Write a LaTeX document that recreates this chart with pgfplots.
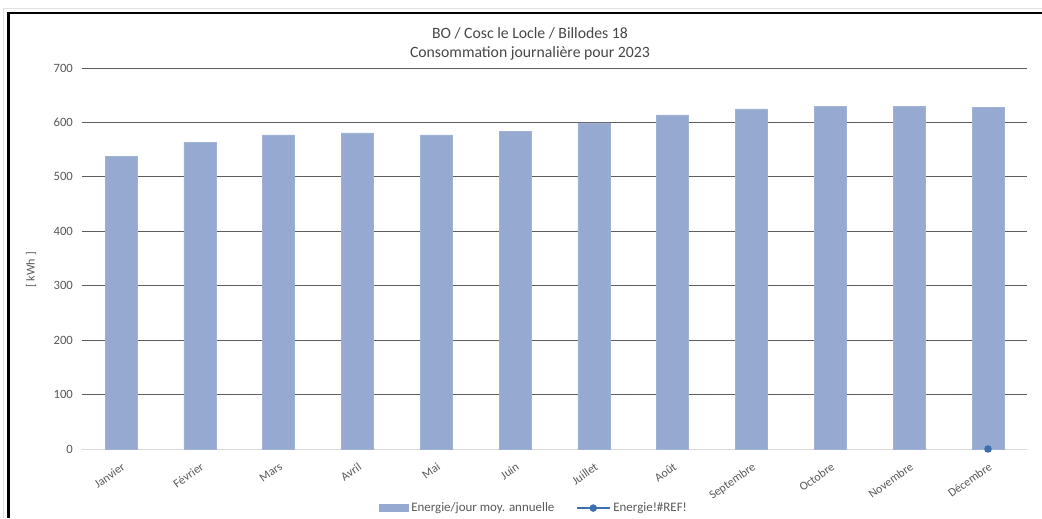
\documentclass[border=0pt]{standalone}
\usepackage{pgfplots}
\pgfplotsset{compat=1.18}
\usepackage{fontspec}
\setmainfont{Carlito}
\definecolor{barc}{HTML}{95A9D1}
\definecolor{linec}{HTML}{3E6EAE}
\definecolor{gridc}{HTML}{5E5E5E}
\definecolor{txt}{HTML}{595959}
\begin{document}
\begin{tikzpicture}[x=0.75pt,y=0.75pt]
\useasboundingbox (0,0) rectangle (1042,518);
\fill[white] (0,0) rectangle (1042,518);
% outer frame
\draw[black!12, line width=0.75pt] (3,0) -- (3,509) -- (1042,509);
\draw[black, line width=2.2pt] (8.5,0) -- (8.5,505) -- (1042,505);
\begin{axis}[
  at={(61.2pt,51.75pt)}, anchor=south west,
  scale only axis, width=709.35pt, height=285.75pt,
  xmin=-0.5, xmax=11.5, ymin=0, ymax=700,
  ytick={0,100,...,700},
  xtick={0,...,11},
  xticklabels={Janvier,Février,Mars,Avril,Mai,Juin,Juillet,Août,Septembre,Octobre,Novembre,Décembre},
  xticklabel style={rotate=35, anchor=north east, font=\fontsize{9}{10}\selectfont, text=txt, inner sep=0pt, xshift=-5.5pt, yshift=-8pt},
  yticklabel style={font=\fontsize{9.5}{10}\selectfont, text=txt, xshift=-3pt},
  /pgf/number format/assume math mode=true,
  ymajorgrids, xmajorgrids=false, major grid style={draw=gridc, line width=0.75pt},
  axis line style={draw=none},
  axis x line*=bottom, axis y line*=left,
  x axis line style={draw=black!15, line width=0.75pt},
  tick style={draw=none},
  ylabel={[ kWh ]}, ylabel style={font=\fontsize{9}{10}\selectfont, text=txt, at={(axis description cs:-0.043,0.47)}, anchor=south},
  legend style={at={(0.4785,-0.155)}, anchor=center, draw=none, fill=none, legend columns=2, font=\fontsize{9.7}{11}\selectfont, text=txt, /tikz/every even column/.append style={column sep=14pt}},
  clip=false,
]
\addplot[ybar, bar width=24pt, fill=barc, draw=barc!90!white,
  legend image code/.code={\fill[barc] (0pt,-2.5pt) rectangle (22pt,2.5pt);}]
  coordinates {(0,537) (1,564) (2,577) (3,581) (4,577) (5,583) (6,599) (7,614) (8,625) (9,629) (10,629) (11,627)};
\addlegendentry{Energie/jour moy. annuelle}
\addplot[linec, line width=1.2pt, mark=*, mark size=2.2pt, mark options={fill=linec, draw=linec},
  legend image code/.code={\draw[linec, line width=1.2pt] (0pt,0pt) -- (25pt,0pt); \fill[linec] (12.5pt,0pt) circle (2.2pt);}]
  coordinates {(11,0)};
\addlegendentry{Energie!\#REF!}
\end{axis}
\node[font=\fontsize{11.8}{13}\selectfont, text=txt!80!black] at (530,485) {BO / Cosc le Locle / Billodes 18};
\node[font=\fontsize{11.8}{13}\selectfont, text=txt!80!black] at (530,465) {Consommation journalière pour 2023};
\end{tikzpicture}
\end{document}
